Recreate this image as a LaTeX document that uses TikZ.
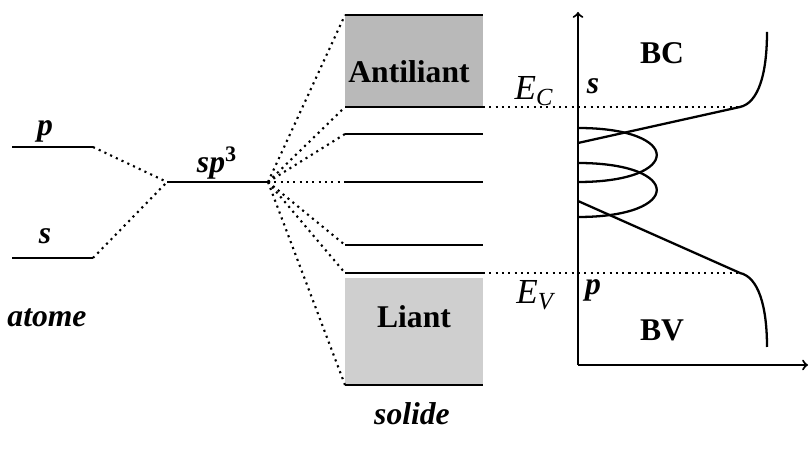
\documentclass[tikz,border=0pt]{standalone}
\usepackage{fontspec}
\setmainfont{Liberation Serif}
\usetikzlibrary{arrows,positioning}

\begin{document}
\begin{tikzpicture}[x=0.02cm, y=-0.02cm,
		level/.style={line width=1.5pt},
		link/.style={line width=1.2pt, dash pattern=on 1.2pt off 2.4pt},
		orb/.style={font=\fontsize{18}{20}\selectfont\bfseries\itshape},
		band/.style={font=\fontsize{18}{20}\selectfont\bfseries},
		energy/.style={font=\fontsize{20}{22}\selectfont\itshape}]
	\useasboundingbox (0,0) rectangle (809,452);
	
	% atome
	\coordinate (pL) at (12,147);
	\draw [level] (pL) -- (93,147) coordinate (pR);
	\coordinate (sL) at (12,258);
	\draw [level] (sL) -- (93,258) coordinate (sR);
	\node [orb] (p) at (45,131) {p};
	\node [orb] (s) at (45,236) {s};
	\node [orb] (atome) at (47,318) {atome};
	
	% hybride
	\coordinate (hL) at (167,182);
	\draw [level] (hL) -- (268,182) coordinate (hR);
	\node [orb] (sp) at (217,163) {sp$^{\mathbf{3}}$};
	\draw [link] (pR) -- (hL);
	\draw [link] (sR) -- (hL);
	
	% solide
	\fill [gray!55] (345,15) rectangle (483,107);
	\fill [gray!38] (345,278) rectangle (483,384);
	\foreach \y/\n in {15/a,107/b,134/c,182/d,245/e,273/f,385/g}{
		\coordinate (\n L) at (345,\y);
		\draw [level] (\n L) -- (483,\y) coordinate (\n R);
		\draw [link] (hR) -- (\n L);
	}
	\node [band] (anti) at (409,72) {Antiliant};
	\node [band] (liant) at (414,317) {Liant};
	\node [orb] (solide) at (412,414) {solide};
	
	% densite d'etats
	\coordinate (O) at (578,365);
	\draw [line width=1.2pt,->] (O) -- (578,12) coordinate (Ytop);
	\draw [line width=1.2pt,->] (O) -- (808,365) coordinate (Xend);
	\coordinate (c1) at (740,107);
	\coordinate (v1) at (740,273);
	\draw [link] (bR) -- (c1);
	\draw [link] (fR) -- (v1);
	\node [energy] (EC) at (534,91) {E\textsubscript{C}};
	\node [energy] (EV) at (535,295) {E\textsubscript{V}};
	\node [orb] (sd) at (593,86) {s};
	\node [orb] (pd) at (593,290) {p};
	\node [band] (BC) at (662,53) {BC};
	\node [band] (BV) at (662,330) {BV};
	
	\draw [line width=1.3pt] (578,143) -- (c1) .. controls (758,103) and (767,75) .. (767,32);
	\draw [line width=1.3pt] (578,201) -- (v1) .. controls (758,277) and (767,305) .. (767,347);
	\draw [line width=1.3pt] (578,128) .. controls (683,128) and (683,182) .. (578,182);
	\draw [line width=1.3pt] (578,163) .. controls (683,163) and (683,217) .. (578,217);
	
\end{tikzpicture}
\end{document}
